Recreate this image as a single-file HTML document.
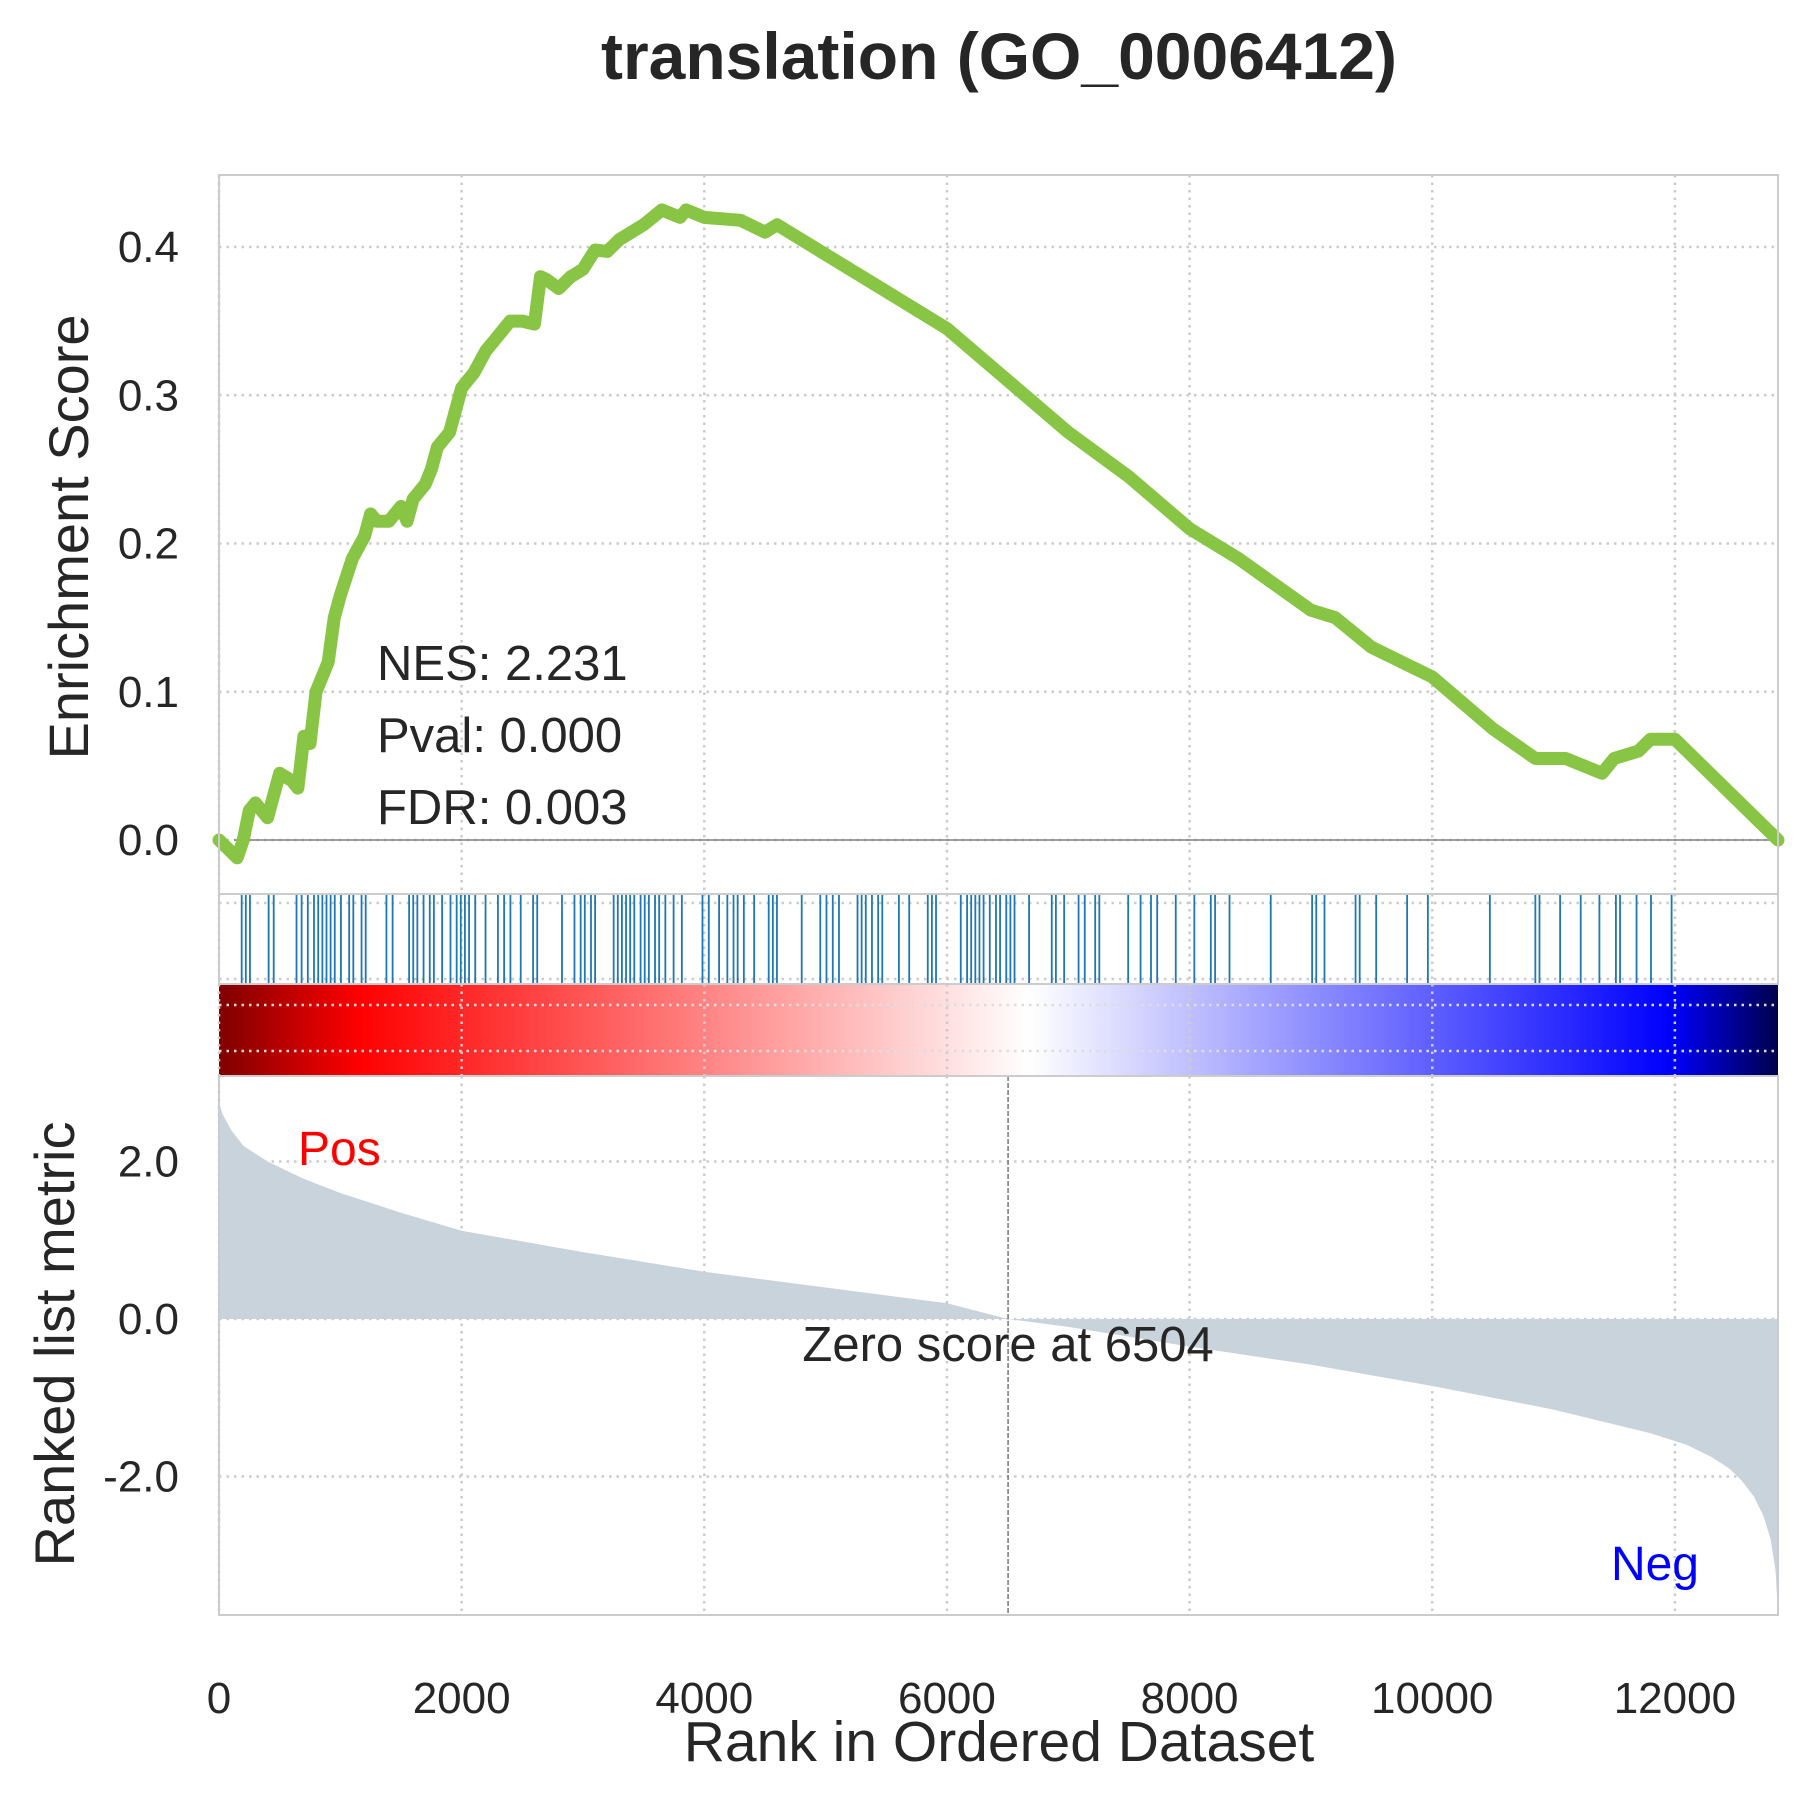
<!DOCTYPE html>
<html><head><meta charset="utf-8"><style>
html,body{margin:0;padding:0;background:#fff}
svg{display:block;font-family:"Liberation Sans",Arial,sans-serif}
</style></head><body>
<svg id="chart" width="1809" height="1797" viewBox="0 0 1809 1797" xmlns="http://www.w3.org/2000/svg">
<defs>
<linearGradient id="seis" x1="0" x2="1" y1="0" y2="0">
<stop offset="0" stop-color="#7f0000"/><stop offset="0.09" stop-color="#ff0000"/>
<stop offset="0.52" stop-color="#ffffff"/><stop offset="0.93" stop-color="#0000ff"/>
<stop offset="1" stop-color="#00004c"/></linearGradient>
</defs>
<text x="999" y="79" text-anchor="middle" font-size="66" font-weight="bold" fill="#262626">translation (GO_0006412)</text>
<g id="grid"></g>
<rect x="219" y="984" width="1559" height="92" fill="url(#seis)"/>
<g id="grid2"></g>
<g id="marks"></g>
<g id="frames"></g>
<text x="377" y="680" font-size="49" fill="#262626">NES: 2.231</text>
<text x="377" y="752" font-size="49" fill="#262626">Pval: 0.000</text>
<text x="377" y="824" font-size="49" fill="#262626">FDR: 0.003</text>
<text x="298" y="1165" font-size="48" fill="#ff0000">Pos</text>
<text x="1699" y="1580" text-anchor="end" font-size="48" fill="#0000ff">Neg</text>
<text transform="translate(88,537) rotate(-90)" text-anchor="middle" font-size="56" fill="#262626">Enrichment Score</text>
<text transform="translate(74,1344) rotate(-90)" text-anchor="middle" font-size="56" fill="#262626">Ranked list metric</text>
<text x="999" y="1761" text-anchor="middle" font-size="57" fill="#262626">Rank in Ordered Dataset</text>
</svg>
<script>
const esRanks=[0,150,200,250,300,400,450,500,600,650,700,750,800,850,900,950,1000,1100,1200,1250,1300,1400,1500,1550,1600,1700,1750,1800,1900,2000,2100,2200,2300,2400,2500,2600,2650,2700,2800,2900,3000,3100,3200,3300,3400,3500,3650,3800,3850,4000,4300,4500,4600,5000,5500,6000,6500,7000,7500,8000,8400,9000,9200,9500,10000,10500,10850,11100,11400,11500,11700,11800,12000,12850];
const esValues=[0,-0.012,0.0,0.02,0.025,0.015,0.03,0.045,0.04,0.035,0.07,0.065,0.1,0.11,0.12,0.15,0.165,0.19,0.205,0.22,0.215,0.215,0.225,0.215,0.23,0.24,0.25,0.265,0.275,0.305,0.315,0.33,0.34,0.35,0.35,0.348,0.38,0.378,0.372,0.38,0.385,0.398,0.397,0.405,0.41,0.415,0.425,0.42,0.425,0.42,0.418,0.41,0.415,0.395,0.37,0.345,0.31,0.275,0.245,0.21,0.19,0.155,0.15,0.13,0.11,0.075,0.055,0.055,0.045,0.055,0.06,0.068,0.068,0.0];
const hitRanks=[187,221,255,409,451,639,681,732,783,818,852,886,920,954,1005,1073,1107,1175,1209,1380,1431,1567,1601,1635,1686,1737,1771,1839,1908,1959,1993,2027,2061,2112,2197,2299,2350,2402,2487,2589,2623,2827,2930,2981,3015,3066,3100,3253,3287,3321,3355,3389,3423,3475,3509,3543,3594,3628,3679,3747,3815,3985,4037,4122,4190,4241,4275,4326,4411,4531,4565,4599,4803,4956,5007,5059,5110,5263,5297,5331,5382,5433,5467,5604,5689,5842,5876,5910,6114,6166,6200,6234,6268,6302,6353,6404,6438,6489,6523,6557,6677,6864,6898,6966,7085,7136,7222,7256,7494,7596,7682,7733,7886,8039,8175,8210,8329,8669,9010,9044,9112,9368,9402,9538,9793,9964,10475,10850,10884,11054,11224,11378,11514,11548,11684,11803,11973];
const metricRanks=[0,30,100,200,400,700,1000,1500,2000,3000,4000,5000,6000,6504,7000,8000,9000,10000,11000,11800,12100,12300,12450,12550,12650,12730,12790,12830,12850];
const metricValues=[2.75,2.6,2.4,2.2,2.0,1.78,1.6,1.35,1.12,0.85,0.6,0.4,0.2,0,-0.1,-0.35,-0.58,-0.85,-1.15,-1.45,-1.6,-1.75,-1.9,-2.05,-2.25,-2.5,-2.8,-3.2,-3.75];
const xTicks=[0,2000,4000,6000,8000,10000,12000];
const esTicks=[0.0,0.1,0.2,0.3,0.4];
const metricTicks=[-2.0,0.0,2.0];
const zeroRank=6504;

const NS="http://www.w3.org/2000/svg";
const L=219,R=1778,XMAX=12850;
const x=r=>L+(R-L)*r/XMAX;
const yEs=v=>840-v*1482.5;
const yM=v=>1319-v*78.75;
function mk(tag,attrs,parent){const e=document.createElementNS(NS,tag);for(const k in attrs)e.setAttribute(k,attrs[k]);parent.appendChild(e);return e;}
const grid=document.getElementById('grid'),grid2=document.getElementById('grid2'),marks=document.getElementById('marks'),frames=document.getElementById('frames'),svg=document.getElementById('chart');
const gs={stroke:'#cccccc','stroke-width':2.5,'stroke-dasharray':'2.5,5'};
xTicks.forEach(t=>{
 [[175,894],[894,984],[1076,1615]].forEach(([a,b])=>{const l=mk('line',Object.assign({x1:x(t),x2:x(t),y1:a,y2:b},gs),grid);
 
 });
 const g=mk('line',Object.assign({x1:x(t),x2:x(t),y1:984,y2:1076},gs),grid2);
 
 
 const tx=mk('text',{x:x(t),y:1713,'text-anchor':'middle','font-size':44,fill:'#262626'},svg);tx.textContent=t;
 
 
});
esTicks.forEach(t=>{const l=mk('line',Object.assign({x1:L,x2:R,y1:yEs(t),y2:yEs(t)},gs),grid);
 
 
 const tx=mk('text',{x:179,y:yEs(t)+15,'text-anchor':'end','font-size':44,fill:'#262626'},svg);tx.textContent=t.toFixed(1);
 
 });
metricTicks.forEach(t=>{const l=mk('line',Object.assign({x1:L,x2:R,y1:yM(t),y2:yM(t)},gs),grid);
 
 
 const tx=mk('text',{x:179,y:yM(t)+15,'text-anchor':'end','font-size':44,fill:'#262626'},svg);tx.textContent=t.toFixed(1);
 
 });
[1005,1051].forEach(yy=>{const l=mk('line',{x1:L,x2:R,y1:yy,y2:yy,stroke:'#dddddd','stroke-width':2.5,'stroke-dasharray':'2.5,5'},grid2);
 
 });
[903,979].forEach(yy=>{const l=mk('line',{x1:L,x2:R,y1:yy,y2:yy,stroke:'#cccccc','stroke-width':2.5,'stroke-dasharray':'2.5,5'},grid);
 
 });
let d=`M${x(metricRanks[0])},${yM(0)}`;
metricRanks.forEach((r,i)=>{d+=`L${x(r)},${yM(metricValues[i])}`;});
d+=`L${x(metricRanks[metricRanks.length-1])},${yM(0)}Z`;
const area=mk('path',{d:d,fill:'#c9d3dc'},marks);


const zl=mk('line',{x1:x(zeroRank),x2:x(zeroRank),y1:1076,y2:1615,stroke:'#777','stroke-width':1.5,'stroke-dasharray':'5,2'},marks);


const zt=mk('text',{x:x(zeroRank),y:1361,'text-anchor':'middle','font-size':49,fill:'#262626'},svg);zt.textContent='Zero score at '+zeroRank;


hitRanks.forEach(r=>{const l=mk('line',{x1:x(r),x2:x(r),y1:894,y2:984,stroke:'#1f77b4','stroke-width':1.8},marks);
 
 });
const z0=mk('line',{x1:L+15,x2:R,y1:yEs(0),y2:yEs(0),stroke:'#808080','stroke-width':1.5},marks);


const pts=esRanks.map((r,i)=>`${x(r)},${yEs(esValues[i])}`).join(' ');
const pl=mk('polyline',{points:pts,fill:'none',stroke:'#88c544','stroke-width':13,'stroke-linejoin':'round','stroke-linecap':'round'},marks);


[[175,719],[894,90],[1076,539]].forEach(([t,h])=>{const r=mk('rect',{x:L,y:t,width:R-L,height:h,fill:'none',stroke:'#cccccc','stroke-width':2},frames);
 
 });
</script>
</body></html>
